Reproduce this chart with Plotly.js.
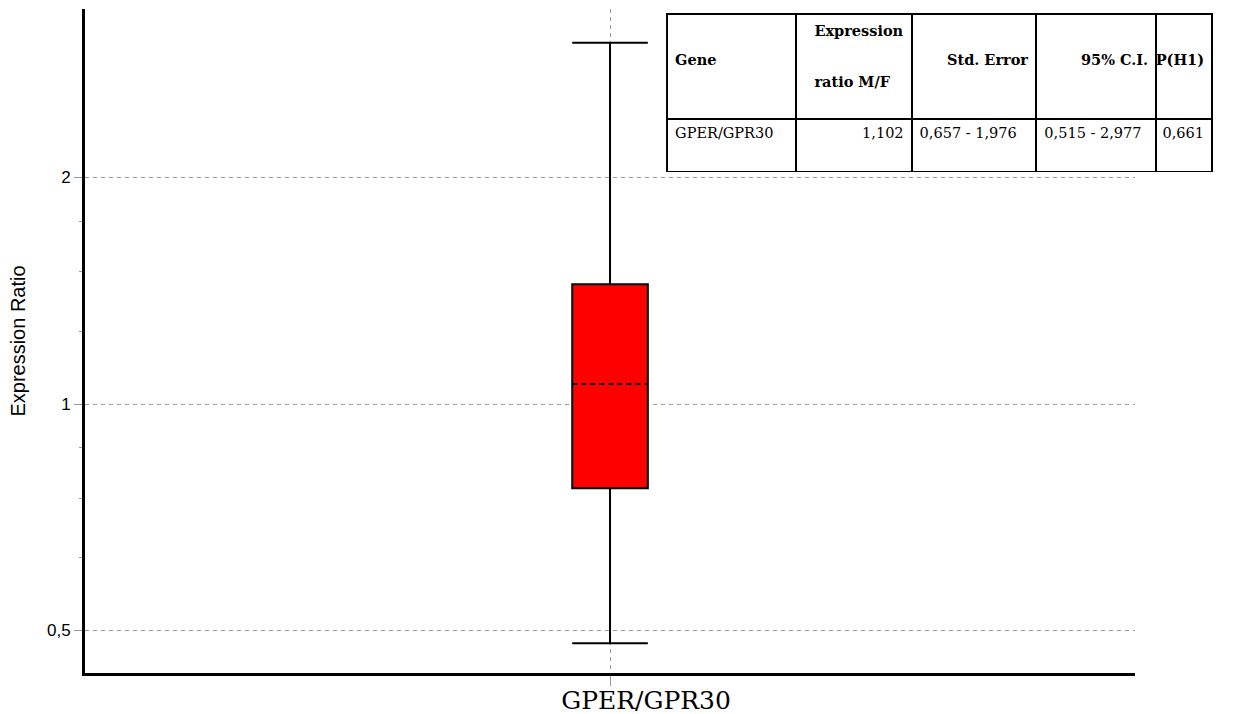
<!DOCTYPE html>
<html>
<head>
<meta charset="utf-8">
<script src="https://cdn.plot.ly/plotly-3.0.1.min.js"></script>
<style>html,body{margin:0;padding:0;background:#fff;}</style>
</head>
<body>
<div id="chart" style="width:1233px;height:714px;"></div>
<script>
// Box summary for the gene (expression ratio, log scale)
const genes = ['GPER/GPR30'];
const lowerWhisker = [0.481];
const q1 = [0.773];
const median = [1.063];
const q3 = [1.443];
const upperWhisker = [3.02];

// Y axis ticks
const yTickVals = [0.5, 1, 2];
const yTickText = ['0,5', '1', '2'];
const yMinorVals = [0.625, 0.75, 0.875, 1.25, 1.5, 1.75];

// Results table
const tableHeader = [['', 'Gene', ''], ['Expression', '', 'ratio M/F'], ['', 'Std. Error', ''], ['', '95% C.I.', ''], ['', 'P(H1)', '']];
const tableGene = ['GPER/GPR30'];
const tableRatio = ['1,102'];
const tableStdErr = ['0,657 - 1,976'];
const tableCI = ['0,515 - 2,977'];
const tableP = ['0,661'];

const boxWidth = 0.072;
const serif = 'DejaVu Serif, Liberation Serif, serif';
const sans = 'Liberation Sans, Arial, sans-serif';

// keep each cell on one line
const noWrap = arr => arr.map(s => s.replace(/ /g, '\u00a0'));

const headerText = tableHeader.map(lines =>
  lines.map(s => s ? '<b><span style="font-size:14.5px">' + s.replace(/ /g, '\u00a0') + '</span></b>' : '\u00a0').join('<br>'));

const traces = [
  {
    type: 'box',
    x: genes,
    q1: q1,
    median: median,
    q3: q3,
    lowerfence: lowerWhisker,
    upperfence: upperWhisker,
    width: boxWidth,
    whiskerwidth: 1,
    fillcolor: '#ff0000',
    line: {color: '#000000', width: 2},
    boxpoints: false,
    hoverinfo: 'skip',
    showlegend: false
  },
  // median drawn dashed over the box: mask the solid line, then dash it
  {
    type: 'scatter', mode: 'lines', xaxis: 'x2', yaxis: 'y',
    x: [-boxWidth / 2 * 0.96, boxWidth / 2 * 0.96], y: [median[0], median[0]],
    line: {color: '#ff0000', width: 3}, hoverinfo: 'skip', showlegend: false
  },
  {
    type: 'scatter', mode: 'lines', xaxis: 'x2', yaxis: 'y',
    x: [-boxWidth / 2, boxWidth / 2], y: [median[0], median[0]],
    line: {color: '#000000', width: 2, dash: '5px,4px'}, hoverinfo: 'skip', showlegend: false
  },
  {
    type: 'table',
    domain: {x: [0.516, 1.0], y: [0.7545, 0.9925]},
    columnwidth: [129, 116, 125, 120, 56],
    header: {
      values: headerText,
      align: ['left', 'right', 'right', 'right', 'right'],
      height: 105,
      fill: {color: '#ffffff'},
      line: {color: '#000000', width: 2},
      font: {family: serif, size: 19.6, color: '#000000'}
    },
    cells: {
      values: [noWrap(tableGene), noWrap(tableRatio), noWrap(tableStdErr), noWrap(tableCI), noWrap(tableP)],
      align: ['left', 'right', 'left', 'left', 'right'],
      height: 53,
      fill: {color: '#ffffff'},
      line: {color: '#000000', width: 2},
      font: {family: serif, size: 14.5, color: '#000000'}
    }
  }
];

const layout = {
  width: 1233,
  height: 714,
  margin: {l: 85, r: 20, t: 9, b: 41},
  paper_bgcolor: '#ffffff',
  plot_bgcolor: '#ffffff',
  showlegend: false,
  xaxis: {
    type: 'category',
    domain: [0, 0.9309],
    range: [-0.5, 0.5],
    showline: true, linecolor: '#000000', linewidth: 3,
    showgrid: true, gridcolor: '#9a9a9a', griddash: '4px,4px', gridwidth: 1,
    ticks: 'outside', ticklen: 10, tickcolor: '#9a9a9a', tickwidth: 1,
    tickfont: {family: serif, size: 25, color: '#000000'},
    ticklabelshift: 36, ticklabelstandoff: -7,
    zeroline: false, fixedrange: true
  },
  xaxis2: {
    overlaying: 'x', domain: [0, 0.9309], range: [-0.5, 0.5],
    visible: false, fixedrange: true
  },
  yaxis: {
    type: 'log',
    range: [Math.log10(0.5) - 0.0565, Math.log10(2) + 0.224],
    tickmode: 'array', tickvals: yTickVals, ticktext: yTickText,
    showline: true, linecolor: '#000000', linewidth: 3,
    showgrid: true, gridcolor: '#9a9a9a', griddash: '4px,4px', gridwidth: 1,
    ticks: 'outside', ticklen: 8, tickcolor: '#9a9a9a', tickwidth: 1,
    tickfont: {family: sans, size: 17, color: '#000000'},
    minor: {tickmode: 'array', tickvals: yMinorVals, ticks: 'outside', ticklen: 3, tickcolor: '#9a9a9a', showgrid: false},
    title: {text: 'Expression Ratio', font: {family: sans, size: 20, color: '#000000'}, standoff: 16},
    zeroline: false, fixedrange: true
  }
};

Plotly.newPlot('chart', traces, layout, {displayModeBar: false, staticPlot: true});
</script>
</body>
</html>
